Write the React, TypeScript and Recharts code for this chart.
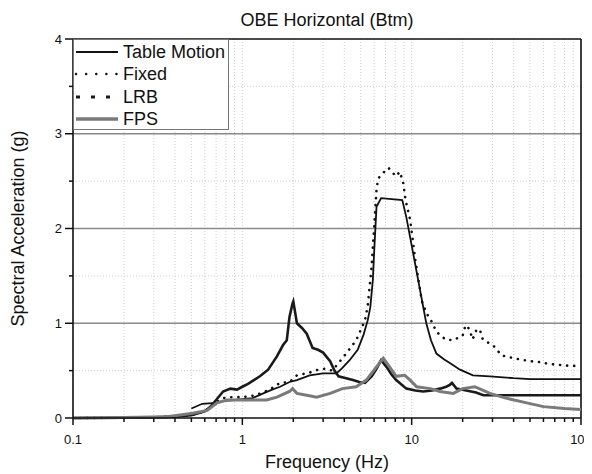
import { LineChart, Line, XAxis, YAxis, CartesianGrid, ReferenceLine, Legend, Label } from 'recharts';

// frequency (Hz) / spectral acceleration (g)
const tableFreq = [0.5, 0.58, 0.7, 0.78, 0.9, 1.0, 1.15, 1.33, 1.5, 1.67, 1.9, 2.1, 2.5, 3.0, 3.6, 3.9, 4.3, 4.8, 5.2, 5.5, 5.7, 5.9, 6.0, 6.2, 6.6, 8.8, 9.3, 10.2, 11.1, 12.2, 13.0, 14.0, 15.5, 16.8, 19.3, 23, 29, 40, 50, 70, 100];
const tableAcc = [0.10, 0.15, 0.16, 0.18, 0.19, 0.20, 0.21, 0.26, 0.30, 0.33, 0.38, 0.40, 0.45, 0.47, 0.47, 0.53, 0.61, 0.72, 0.88, 1.03, 1.17, 1.46, 1.74, 2.23, 2.32, 2.30, 2.12, 1.74, 1.39, 1.00, 0.82, 0.68, 0.62, 0.58, 0.51, 0.45, 0.44, 0.42, 0.41, 0.41, 0.41];

const fixedFreq = [0.1, 0.2, 0.3, 0.4, 0.5, 0.6, 0.66, 0.72, 0.77, 0.87, 1.0, 1.2, 1.45, 1.67, 1.9, 2.1, 2.5, 2.8, 3.1, 3.4, 3.7, 4.1, 4.7, 5.3, 5.5, 5.8, 6.0, 6.2, 6.35, 6.9, 7.3, 7.8, 8.1, 8.5, 8.9, 9.2, 9.8, 10.5, 11.5, 12.2, 13.1, 14.0, 15.8, 17.6, 20, 20.8, 21.9, 22.9, 24, 25.2, 26.3, 30.5, 34, 38, 43, 50, 57, 65, 75, 86, 100];
const fixedAcc = [0, 0.003, 0.008, 0.015, 0.03, 0.07, 0.12, 0.18, 0.21, 0.22, 0.22, 0.24, 0.30, 0.37, 0.38, 0.45, 0.48, 0.51, 0.52, 0.50, 0.58, 0.68, 0.82, 1.03, 1.18, 1.6, 2.0, 2.41, 2.53, 2.60, 2.64, 2.58, 2.55, 2.60, 2.49, 2.30, 2.09, 1.67, 1.23, 1.11, 1.02, 0.91, 0.83, 0.82, 0.87, 0.98, 0.94, 0.83, 0.92, 0.94, 0.83, 0.76, 0.66, 0.64, 0.62, 0.60, 0.59, 0.57, 0.56, 0.55, 0.55];

const lrbFreq = [0.1, 0.2, 0.3, 0.4, 0.5, 0.6, 0.65, 0.7, 0.77, 0.85, 0.93, 1.0, 1.08, 1.17, 1.27, 1.42, 1.6, 1.74, 1.83, 1.9, 1.98, 2.0, 2.07, 2.1, 2.25, 2.4, 2.6, 2.8, 3.0, 3.3, 3.5, 3.7, 4.1, 4.5, 4.9, 5.3, 5.8, 6.2, 6.6, 7.1, 7.6, 8.1, 9.3, 10.5, 11.7, 13.2, 14.7, 16.0, 16.8, 17.3, 18.4, 21, 24, 26.5, 31.6, 50, 100];
const lrbAcc = [0, 0.003, 0.008, 0.015, 0.03, 0.07, 0.12, 0.19, 0.28, 0.31, 0.30, 0.33, 0.36, 0.40, 0.44, 0.51, 0.65, 0.77, 0.82, 1.07, 1.21, 1.23, 1.07, 1.0, 0.95, 0.89, 0.74, 0.72, 0.69, 0.60, 0.50, 0.44, 0.42, 0.40, 0.38, 0.37, 0.44, 0.52, 0.61, 0.54, 0.46, 0.40, 0.31, 0.29, 0.28, 0.29, 0.31, 0.33, 0.35, 0.37, 0.31, 0.29, 0.27, 0.24, 0.24, 0.24, 0.24];

const fpsFreq = [0.1, 0.2, 0.36, 0.51, 0.62, 0.71, 0.81, 0.96, 1.17, 1.39, 1.6, 1.9, 1.98, 2.1, 2.4, 2.75, 3.3, 3.9, 4.7, 5.4, 6.2, 6.8, 7.4, 8.1, 9.1, 9.8, 10.7, 12.9, 14.7, 17.6, 20, 23.6, 29, 36, 45, 60, 80, 100];
const fpsAcc = [0, 0.004, 0.014, 0.05, 0.08, 0.16, 0.19, 0.19, 0.19, 0.19, 0.22, 0.28, 0.31, 0.26, 0.24, 0.22, 0.26, 0.31, 0.33, 0.40, 0.54, 0.63, 0.54, 0.44, 0.45, 0.40, 0.33, 0.31, 0.28, 0.26, 0.31, 0.33, 0.26, 0.21, 0.17, 0.12, 0.10, 0.09];

const majorFreqTicks = [0.1, 1, 10, 100];
const minorFreqTicks = [0.2, 0.3, 0.4, 0.5, 0.6, 0.7, 0.8, 0.9, 2, 3, 4, 5, 6, 7, 8, 9, 20, 30, 40, 50, 60, 70, 80, 90];
const accTicks = [0, 0.5, 1, 1.5, 2, 2.5, 3, 3.5, 4];
const majorAccLines = [1, 2, 3];

const FONT = 'Arial, "Liberation Sans", sans-serif';

const zip = (f: number[], a: number[]) => f.map((x, i) => ({ f: x, a: a[i] }));

const series = [
  { name: 'Table Motion', data: zip(tableFreq, tableAcc), stroke: '#111', width: 1.8, dash: undefined, legendWidth: 2, legendDash: undefined, cap: 'butt' },
  { name: 'Fixed', data: zip(fixedFreq, fixedAcc), stroke: '#111', width: 2.6, dash: '0.1 7', legendWidth: 2.4, legendDash: '0.1 10', cap: 'round' },
  { name: 'LRB', data: zip(lrbFreq, lrbAcc), stroke: '#1a1a1a', width: 2.6, dash: undefined, legendWidth: 3.2, legendDash: '4 11', cap: 'butt' },
  { name: 'FPS', data: zip(fpsFreq, fpsAcc), stroke: '#7a7a7a', width: 3, dash: undefined, legendWidth: 3.4, legendDash: undefined, cap: 'butt' },
];

const FreqTick = (props: any) => {
  const { x, y, payload } = props;
  const major = majorFreqTicks.includes(payload.value);
  return (
    <g>
      <line x1={x} y1={y} x2={x} y2={y + (major ? 7 : 4)} stroke="#111" strokeWidth={1.5} />
      {major && (
        <text x={x} y={y + 21} dy="0.35em" textAnchor="middle" fontSize={13} fill="#111" fontFamily={FONT}>
          {payload.value}
        </text>
      )}
    </g>
  );
};

const AccTick = (props: any) => {
  const { x, y, payload } = props;
  const major = Number.isInteger(payload.value);
  return (
    <g>
      <line x1={x - (major ? 8 : 4)} y1={y} x2={x} y2={y} stroke="#111" strokeWidth={1.5} />
      {major && (
        <text x={x - 11} y={y} dy="0.35em" textAnchor="end" fontSize={13} fill="#111" fontFamily={FONT}>
          {payload.value}
        </text>
      )}
    </g>
  );
};

const LegendBox = () => (
  <div
    style={{
      width: 156,
      height: 91,
      boxSizing: 'border-box',
      border: '1.5px solid #777',
      background: '#fff',
      paddingTop: 1,
      fontFamily: FONT,
      fontSize: 18,
      color: '#111',
    }}
  >
    {series.map((s) => (
      <div key={s.name} style={{ display: 'flex', alignItems: 'center', height: 22.3 }}>
        <svg width={44} height={8} style={{ marginRight: 5, display: 'block' }}>
          <line
            x1={2}
            y1={4}
            x2={44}
            y2={4}
            stroke={s.stroke}
            strokeWidth={s.legendWidth}
            strokeDasharray={s.legendDash}
            strokeLinecap={s.cap as any}
          />
        </svg>
        <span style={{ lineHeight: '18px' }}>{s.name}</span>
      </div>
    ))}
  </div>
);

const App = () => (
  <div style={{ position: 'relative', width: 584, height: 466, fontFamily: FONT }}>
    <LineChart width={584} height={466} margin={{ top: 31, right: 11, bottom: 0, left: 0 }} style={{ overflow: 'visible' }}>
      <CartesianGrid stroke="#c4c4c4" strokeDasharray="1 2" strokeWidth={0.8} />
      {majorAccLines.map((v) => (
        <ReferenceLine key={v} y={v} stroke="#8a8a8a" strokeWidth={1.3} />
      ))}
      <ReferenceLine y={4} stroke="#111" strokeWidth={1.6} />
      <ReferenceLine x={100} stroke="#111" strokeWidth={1.6} />
      <XAxis
        dataKey="f"
        type="number"
        scale="log"
        domain={[0.1, 100]}
        allowDataOverflow
        ticks={[...majorFreqTicks, ...minorFreqTicks].sort((a, b) => a - b)}
        interval={0}
        tickSize={0}
        tickMargin={0}
        tick={<FreqTick />}
        axisLine={{ stroke: '#111', strokeWidth: 1.6 }}
        height={56}
      >
        <Label value="Frequency (Hz)" position="insideBottom" offset={6} style={{ fontSize: 18, fill: '#111', fontFamily: FONT }} />
      </XAxis>
      <YAxis
        type="number"
        domain={[0, 4]}
        ticks={accTicks}
        interval={0}
        tickSize={0}
        tickMargin={0}
        tick={<AccTick />}
        axisLine={{ stroke: '#111', strokeWidth: 1.6 }}
        width={65}
      >
        <Label
          value="Spectral Acceleration (g)"
          angle={-90}
          position="insideLeft"
          offset={10}
          style={{ fontSize: 18, fill: '#111', fontFamily: FONT, textAnchor: 'middle' }}
        />
      </YAxis>
      {series.map((s) => (
        <Line
          key={s.name}
          data={s.data}
          dataKey="a"
          name={s.name}
          type="linear"
          stroke={s.stroke}
          strokeWidth={s.width}
          strokeDasharray={s.dash}
          strokeLinecap={s.cap as any}
          dot={false}
          activeDot={false}
          isAnimationActive={false}
        />
      ))}
      <Legend
        layout="vertical"
        align="center"
        verticalAlign="middle"
        content={() => <LegendBox />}
        wrapperStyle={{ left: 65, top: 31, width: 156, height: 91 }}
      />
    </LineChart>
    <div
      style={{
        position: 'absolute',
        top: 3,
        left: 65,
        width: 508,
        textAlign: 'center',
        fontSize: 18,
        lineHeight: '18px',
        color: '#111',
      }}
    >
      OBE Horizontal (Btm)
    </div>
  </div>
);

export default App;
